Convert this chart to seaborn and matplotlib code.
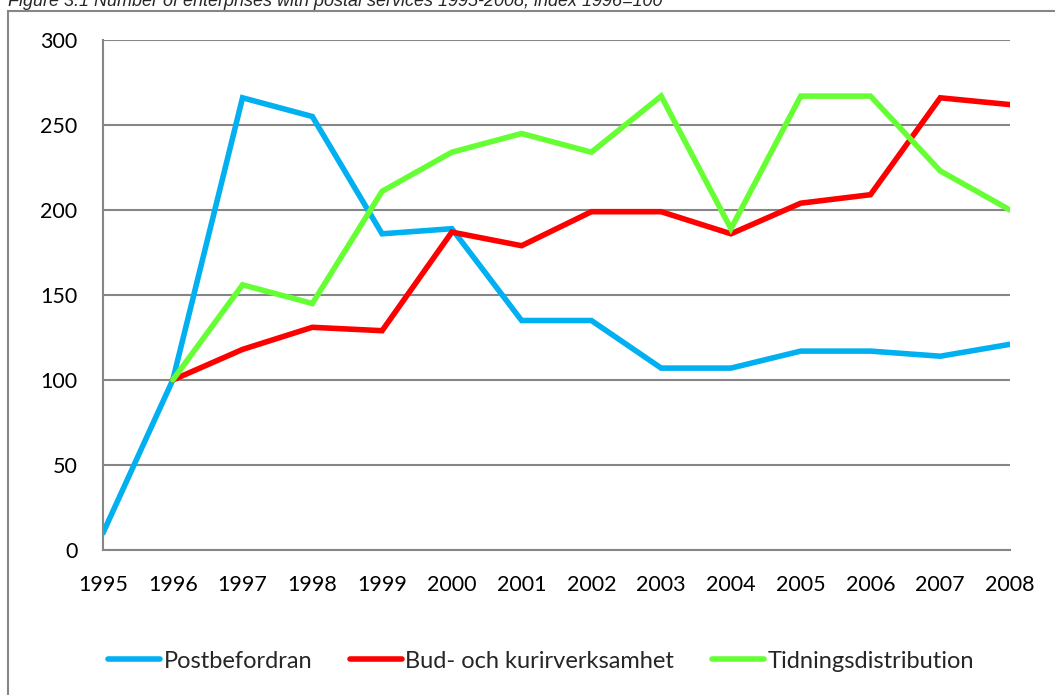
import pandas as pd
import matplotlib.pyplot as plt
import seaborn as sns
from matplotlib.patches import Rectangle

# Data (index 1996=100)
years = list(range(1995, 2009))
postbefordran = [10, 100, 266, 255, 186, 189, 135, 135, 107, 107, 117, 117, 114, 121]
bud_kurir = [None, 100, 118, 131, 129, 187, 179, 199, 199, 186, 204, 209, 266, 262]
tidning = [None, 100, 156, 145, 211, 234, 245, 234, 267, 189, 267, 267, 223, 200]
series_names = ["Postbefordran", "Bud- och kurirverksamhet", "Tidningsdistribution"]

df = pd.DataFrame({"year": years,
                   series_names[0]: postbefordran,
                   series_names[1]: bud_kurir,
                   series_names[2]: tidning})
long = df.melt(id_vars="year", var_name="serie", value_name="index").dropna()

palette = {
    "Postbefordran": "#00b0f0",
    "Bud- och kurirverksamhet": "#ff0000",
    "Tidningsdistribution": "#66ff33",
}

sns.set_style("white")
plt.rcParams['font.family'] = ['Lato', 'DejaVu Sans']

fig = plt.figure(figsize=(10.55, 6.95), dpi=100)
ax = fig.add_axes([103 / 1055, 1 - 550 / 695, 907 / 1055, 510 / 695])

sns.lineplot(data=long, x="year", y="index", hue="serie", palette=palette,
             hue_order=series_names, linewidth=4, ax=ax, legend=False,
             solid_capstyle="round", solid_joinstyle="miter")

grid_color = "#868686"
ax.set_xlim(1995, 2008)
ax.set_ylim(0, 300)
ax.set_yticks(range(0, 301, 50))
ax.set_xticks(years)
ax.set_xticklabels([str(y) for y in years])
ax.yaxis.grid(True, color=grid_color, linewidth=1.5)
ax.set_axisbelow(True)
for s in ["top", "right"]:
    ax.spines[s].set_visible(False)
for s in ["left", "bottom"]:
    ax.spines[s].set_color(grid_color)
    ax.spines[s].set_linewidth(1.5)
ax.tick_params(axis="both", direction="out", length=4.3, width=1.5,
               color=grid_color, labelsize=15.5, labelcolor="black")
ax.tick_params(axis="x", pad=14)
ax.tick_params(axis="y", pad=14)
ax.set_xlabel("")
ax.set_ylabel("")

# legend
handles = [plt.Line2D([0], [0], color=palette[n], linewidth=4,
                      solid_capstyle="round") for n in series_names]
fig.legend(handles, series_names, loc="center", bbox_to_anchor=(541 / 1055, 1 - 661 / 695),
           ncol=3, frameon=False, fontsize=17, handlelength=2.2,
           handletextpad=0.15, columnspacing=1.6)

# outer chart frame (cropped at right and bottom)
fig.patches.append(Rectangle((8 / 1055, -0.1), 1.2, 1 - 11 / 695 + 0.1,
                             transform=fig.transFigure, fill=False,
                             edgecolor=grid_color, linewidth=1.5))

# cropped title
fig.text(8 / 1055, 1 - 2 / 695, "Figure 3.1 Number of enterprises with postal services 1995-2008, index 1996=100",
         family="Liberation Sans", style="italic", fontsize=13, va="center", ha="left")

fig.savefig("out.png", dpi=100)
